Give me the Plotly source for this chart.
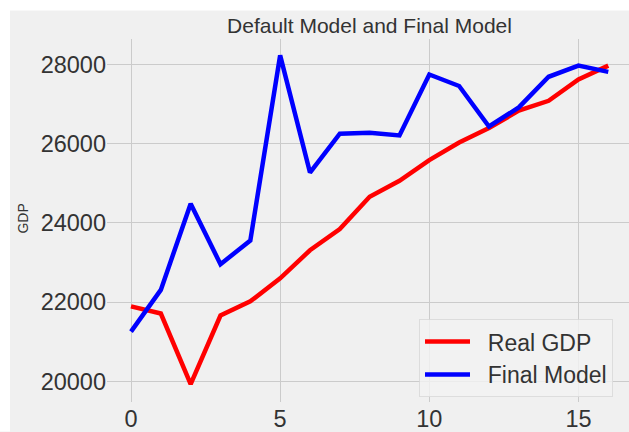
import plotly.graph_objects as go

x_idx = list(range(17))
real_gdp = [21894, 21712, 19930, 21663, 22019, 22600, 23310, 23846, 24661, 25067,
            25590, 26031, 26397, 26837, 27086, 27626, 27975]
final_model = [21254, 22310, 24485, 22958, 23557, 28235, 25275, 26256, 26280, 26213,
               27751, 27460, 26438, 26920, 27693, 27975, 27818]
x_ticks = [0, 5, 10, 15]
y_ticks = [20000, 22000, 24000, 26000, 28000]

FONT = "Liberation Sans, Arial, sans-serif"
TXT = "#333333"
W, H = 629, 432
L, R, T, B = 107, 0, 39, 25
pw, ph = W - L - R, H - T - B

fig = go.Figure()
fig.add_trace(go.Scatter(x=x_idx, y=real_gdp, mode="lines", name="  Real GDP",
                         line=dict(color="#ff0000", width=4.5)))
fig.add_trace(go.Scatter(x=x_idx, y=final_model, mode="lines", name="  Final Model",
                         line=dict(color="#0000ff", width=4.5)))

def px2x(p):
    return (p - L) / pw

def px2y(p):
    return (H - B - p) / ph

fig.update_layout(
    width=W, height=H,
    margin=dict(l=L, r=R, t=T, b=B, pad=0),
    paper_bgcolor="#f0f0f0", plot_bgcolor="#f0f0f0",
    font=dict(family=FONT, color=TXT),
    title=dict(text="Default Model and Final Model", font=dict(size=21, color=TXT),
               x=px2x(369.5), xref="paper", xanchor="center",
               y=1 - 26 / H, yref="container", yanchor="middle"),
    xaxis=dict(range=[-24 / 29.83, (W - 131) / 29.83], tickvals=x_ticks,
               showgrid=True, gridcolor="#cbcbcb", gridwidth=1, zeroline=False,
               showline=False, ticks="", tickfont=dict(size=23.5, color=TXT)),
    yaxis=dict(range=[19477, 28648], tickvals=y_ticks, tickformat="d",
               showgrid=True, gridcolor="#cbcbcb", gridwidth=1, zeroline=False,
               showline=False, ticks="", tickfont=dict(size=23.5, color=TXT)),
    legend=dict(x=px2x(419), y=px2y(323), xanchor="left", yanchor="top",
                bgcolor="rgba(242,242,242,0.8)", bordercolor="rgba(215,215,215,0.8)",
                borderwidth=1, font=dict(size=23, color=TXT), itemwidth=45),
    showlegend=True,
)

fig.add_annotation(text="GDP", textangle=-90, x=px2x(23), y=px2y(221),
                   xref="paper", yref="paper", xanchor="center", yanchor="middle",
                   showarrow=False, font=dict(size=14, color=TXT))

# white strips at top and left edges of the image
fig.add_shape(type="rect", xref="paper", yref="paper", layer="above",
              x0=px2x(0), x1=px2x(W + 5), y0=px2y(10), y1=px2y(-5),
              fillcolor="white", line=dict(width=0))
fig.add_shape(type="rect", xref="paper", yref="paper", layer="above",
              x0=px2x(-5), x1=px2x(10), y0=px2y(H + 5), y1=px2y(-5),
              fillcolor="white", line=dict(width=0))

fig.write_html("out.html", config={"displayModeBar": False},
               post_script="document.body.style.margin='0';")
